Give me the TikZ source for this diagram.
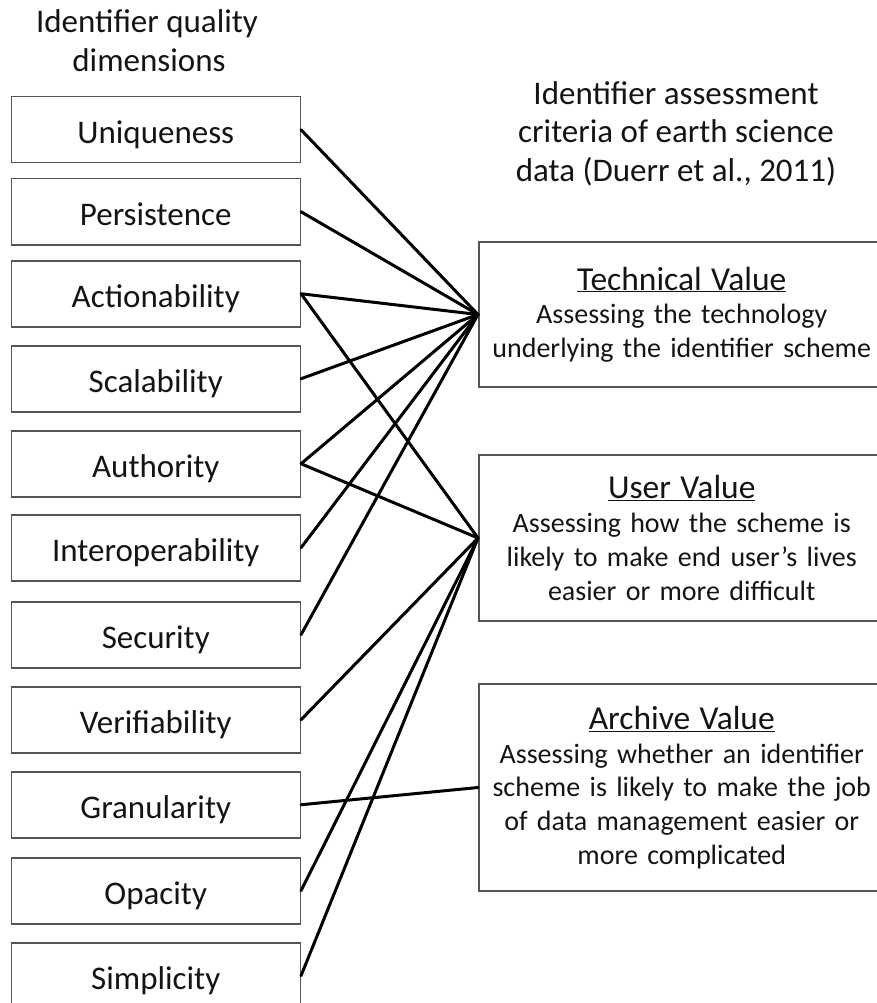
\documentclass[tikz,border=0pt]{standalone}
\usepackage{fontspec}
\setmainfont{Carlito}
\definecolor{boxline}{HTML}{555555}
\definecolor{ink}{HTML}{141414}
\newcommand\critfont{\fontsize{33.5}{33.7}\selectfont}
\begin{document}
\begin{tikzpicture}[x=1pt,y=-1pt,
  dimbox/.style={draw=boxline, line width=1.5pt, anchor=north west,
    minimum width=289pt, minimum height=66pt, inner sep=0pt,
    text height=28pt, text depth=0pt, text=ink,
    font=\fontsize{33}{39}\selectfont},
  critbox/.style={draw=boxline, line width=1.5pt, anchor=west,
    minimum width=406pt, inner sep=0pt, text width=400pt, align=center,
    text=ink, font=\fontsize{28}{33.7}\selectfont},
  heading/.style={align=center, text=ink, inner sep=0pt,
    font=\fontsize{33}{38.5}\selectfont},
  link/.style={draw=black, line width=3pt, line cap=round}
]
\useasboundingbox (0,0) rectangle (877,1003);

% column headings
\node[heading, anchor=base] (hdimA) at (147,33) {Identifier quality};
\node[heading, anchor=base] (hdimB) at (149,72) {dimensions};
\node[heading, anchor=base] (hcritA) at (676,105) {Identifier assessment};
\node[heading, anchor=base] (hcritB) at (676,143) {criteria of earth science};
\node[heading, anchor=base] (hcritC) at (676,182) {data (Duerr et al., 2011)};

% identifier quality dimensions
\node[dimbox] (uni) at (10.5,96)  {Uniqueness};
\node[dimbox] (per) at (10.5,178) {Persistence};
\node[dimbox] (act) at (10.5,260) {Actionability};
\node[dimbox] (sca) at (10.5,345) {Scalability};
\node[dimbox] (aut) at (10.5,430) {Authority};
\node[dimbox] (int) at (10.5,514) {Interoperability};
\node[dimbox] (sec) at (10.5,601) {Security};
\node[dimbox] (ver) at (10.5,686) {Verifiability};
\node[dimbox] (gra) at (10.5,771) {Granularity};
\node[dimbox] (opa) at (10.5,857) {Opacity};
\node[dimbox] (sim) at (10.5,942) {Simplicity};

% assessment criteria
\node[critbox, minimum height=145pt] (tech) at (478,314.5)
  {{\critfont\underline{Technical Value}}\\
   Assessing the technology\\
   underlying the identifier scheme};
\node[critbox, minimum height=166pt] (user) at (478,538)
  {{\critfont\underline{User Value}}\\
   Assessing how the scheme is\\
   likely to make end user’s lives\\
   easier or more difficult};
\node[critbox, minimum height=207pt] (arch) at (478,787.5)
  {{\critfont\underline{Archive Value}}\\
   Assessing whether an identifier\\
   scheme is likely to make the job\\
   of data management easier or\\
   more complicated};

% mappings
\foreach \d in {uni,per,act,sca,aut,int,sec}
  \draw[link] (\d.east) -- (tech.west);
\foreach \d in {act,aut,ver,opa,sim}
  \draw[link] (\d.east) -- (user.west);
\draw[link] (gra.east) -- (arch.west);
\end{tikzpicture}
\end{document}
